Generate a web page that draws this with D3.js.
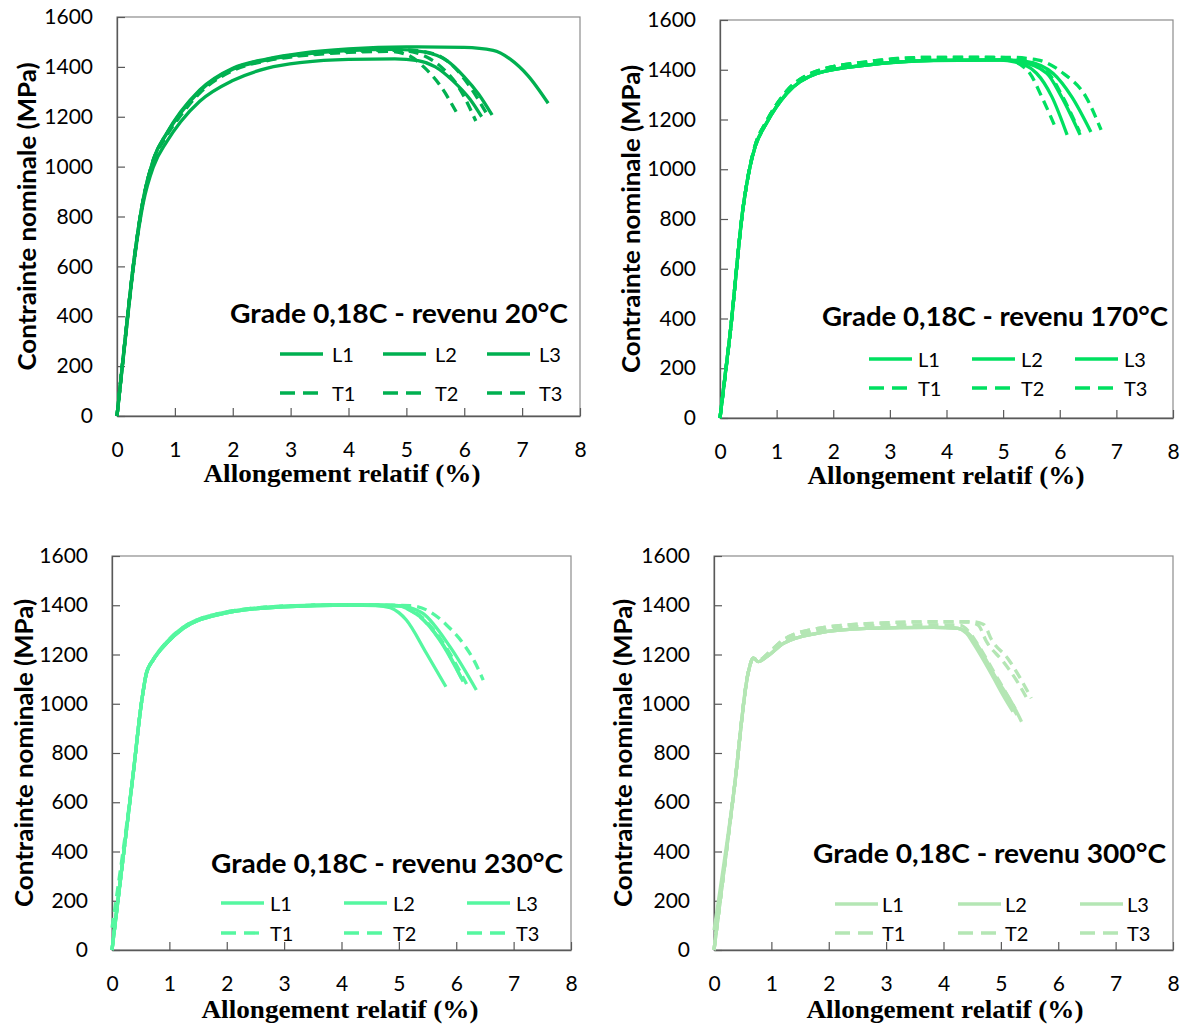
<!DOCTYPE html>
<html><head><meta charset="utf-8">
<script src="https://cdn.jsdelivr.net/npm/d3@7"></script>
<style>
html,body{margin:0;padding:0;background:#fff;}
svg{display:block;}
text{font-family:Lato,"Open Sans",sans-serif;fill:#000;}
</style></head>
<body>
<svg id="chart" width="1184" height="1027"></svg>
<script>
// ---------- data ----------
const seriesNames = ["L1","L2","L3","T1","T2","T3"];
const xTicks = [0,1,2,3,4,5,6,7,8];
const yTicks = [0,200,400,600,800,1000,1200,1400,1600];
const titles = ["Grade 0,18C - revenu 20°C","Grade 0,18C - revenu 170°C","Grade 0,18C - revenu 230°C","Grade 0,18C - revenu 300°C"];
const xTitle = "Allongement relatif (%)";
const yTitle = "Contrainte nominale (MPa)";

// revenu 20°C
const r20_L1 = [[0,0],[0.15,330],[0.28,600],[0.45,866],[0.63,1030],[0.86,1135],[1.1,1220],[1.43,1308],[2,1395],[2.6,1432],[3.2,1455],[4,1472],[5,1480],[6,1478],[6.5,1466],[6.8,1430],[7.1,1365],[7.45,1254]];
const r20_L2 = [[0,0],[0.15,320],[0.28,590],[0.45,850],[0.63,1000],[0.86,1100],[1.1,1180],[1.43,1262],[2,1345],[2.6,1395],[3.2,1418],[4,1430],[4.8,1432],[5.2,1425],[5.5,1400],[5.8,1345],[6.1,1270],[6.3,1200]];
const r20_L3 = [[0,0],[0.15,330],[0.28,600],[0.45,866],[0.63,1030],[0.86,1132],[1.1,1215],[1.43,1303],[2,1390],[2.6,1428],[3.2,1450],[4,1465],[4.8,1470],[5.3,1460],[5.7,1425],[6.0,1360],[6.25,1290],[6.48,1207]];
const r20_T1 = [[0,0],[0.15,325],[0.28,595],[0.45,860],[0.63,1020],[0.86,1125],[1.1,1205],[1.43,1295],[2,1385],[2.6,1425],[3.2,1445],[4,1458],[4.7,1462],[5.0,1450],[5.3,1400],[5.6,1320],[5.86,1220]];
const r20_T2 = [[0,0],[0.15,328],[0.28,598],[0.45,862],[0.63,1025],[0.86,1130],[1.1,1212],[1.43,1300],[2,1390],[2.6,1428],[3.2,1448],[4,1462],[4.9,1466],[5.3,1445],[5.6,1400],[5.9,1320],[6.2,1183]];
const r20_T3 = [[0,0],[0.15,330],[0.28,600],[0.45,865],[0.63,1028],[0.86,1132],[1.1,1216],[1.43,1304],[2,1392],[2.6,1430],[3.2,1452],[4,1465],[5.0,1468],[5.5,1450],[5.8,1405],[6.1,1320],[6.4,1207]];

// revenu 170°C
const r170_L1 = [[0,0],[0.18,342],[0.41,849],[0.53,1010],[0.62,1090],[0.82,1185],[1.18,1305],[1.71,1385],[2.59,1419],[3.77,1437],[4.95,1439],[5.2,1432],[5.59,1386],[5.86,1292],[6.13,1138]];
const r170_L2 = [[0,0],[0.18,342],[0.41,849],[0.53,1010],[0.62,1090],[0.82,1185],[1.18,1305],[1.71,1385],[2.59,1419],[3.77,1438],[5.0,1440],[5.3,1432],[5.77,1386],[6.03,1292],[6.36,1138]];
const r170_L3 = [[0,0],[0.18,342],[0.41,849],[0.53,1010],[0.62,1090],[0.82,1185],[1.18,1305],[1.71,1385],[2.59,1419],[3.77,1438],[5.0,1440],[5.4,1434],[5.88,1386],[6.21,1292],[6.55,1150]];
const r170_T1 = [[0,0],[0.18,342],[0.41,849],[0.53,1012],[0.62,1095],[0.82,1192],[1.18,1312],[1.71,1393],[2.59,1430],[3.77,1448],[4.7,1450],[5.1,1440],[5.47,1386],[5.68,1292],[5.93,1165]];
const r170_T2 = [[0,0],[0.18,342],[0.41,849],[0.53,1012],[0.62,1095],[0.82,1192],[1.18,1315],[1.71,1395],[2.59,1432],[3.77,1450],[4.9,1450],[5.35,1438],[5.8,1386],[6.05,1292],[6.35,1150]];
const r170_T3 = [[0,0],[0.18,342],[0.41,849],[0.53,1012],[0.62,1095],[0.82,1192],[1.18,1315],[1.71,1395],[2.59,1432],[3.77,1450],[5.1,1450],[5.6,1440],[6.06,1386],[6.46,1292],[6.73,1158]];

// revenu 230°C
const r230_L1 = [[0,0],[0.37,717],[0.52,1015],[0.6,1124],[0.72,1178],[0.95,1245],[1.24,1306],[1.82,1360],[2.98,1394],[4.15,1401],[4.6,1399],[4.85,1390],[5.0,1370],[5.13,1340],[5.48,1205],[5.82,1069]];
const r230_L2 = [[0,0],[0.37,717],[0.52,1015],[0.6,1124],[0.72,1178],[0.95,1245],[1.24,1306],[1.82,1360],[2.98,1394],[4.15,1401],[5.0,1398],[5.2,1390],[5.42,1367],[5.89,1232],[6.35,1056]];
const r230_L3 = [[0,0],[0.37,717],[0.52,1015],[0.6,1124],[0.72,1178],[0.95,1245],[1.24,1306],[1.82,1360],[2.98,1394],[4.15,1401],[5.0,1398],[5.15,1385],[5.37,1353],[5.71,1259],[6.12,1090]];
const r230_T1 = [[0,90],[0.37,717],[0.52,1015],[0.6,1124],[0.72,1180],[0.95,1250],[1.24,1310],[1.82,1364],[2.98,1396],[4.15,1402],[5.0,1398],[5.15,1386],[5.37,1352],[5.71,1262],[6.1,1100]];
const r230_T2 = [[0,0],[0.37,717],[0.52,1015],[0.6,1124],[0.72,1180],[0.95,1250],[1.24,1310],[1.82,1364],[2.98,1396],[4.15,1402],[5.05,1398],[5.2,1384],[5.42,1348],[5.75,1255],[6.18,1080]];
const r230_T3 = [[0,0],[0.37,717],[0.52,1015],[0.6,1124],[0.72,1180],[0.95,1250],[1.24,1310],[1.82,1364],[2.98,1396],[4.15,1402],[5.2,1398],[5.54,1374],[5.83,1320],[6.12,1245],[6.32,1171],[6.47,1096]];

// revenu 300°C
const r300_L1 = [[0,0],[0.35,650],[0.6,1130],[0.685,1185],[0.77,1171],[0.92,1191],[1.21,1245],[1.79,1286],[2.66,1306],[3.82,1310],[4.2,1308],[4.4,1286],[4.52,1245],[4.86,1110],[5.05,1030],[5.21,968]];
const r300_L2 = [[0,0],[0.35,650],[0.6,1130],[0.685,1185],[0.77,1171],[0.92,1191],[1.21,1245],[1.79,1286],[2.66,1306],[3.82,1310],[4.25,1306],[4.45,1280],[4.6,1235],[4.9,1110],[5.2,1000],[5.36,927]];
const r300_L3 = [[0,80],[0.35,650],[0.6,1130],[0.685,1185],[0.77,1171],[0.92,1191],[1.21,1245],[1.79,1286],[2.66,1306],[3.82,1310],[4.25,1306],[4.45,1282],[4.58,1240],[4.9,1108],[5.16,1002],[5.28,955]];
const r300_T1 = [[0,0],[0.35,650],[0.6,1130],[0.685,1185],[0.77,1175],[0.92,1200],[1.21,1260],[1.79,1305],[2.66,1325],[3.82,1333],[4.4,1332],[4.6,1320],[4.75,1252],[5.04,1171],[5.27,1096],[5.47,1015]];
const r300_T2 = [[0,0],[0.35,650],[0.6,1130],[0.685,1185],[0.77,1175],[0.92,1200],[1.21,1260],[1.79,1305],[2.66,1325],[3.82,1333],[4.5,1333],[4.7,1322],[4.84,1259],[5.13,1181],[5.33,1107],[5.53,1022]];
const r300_T3 = [[0,0],[0.35,650],[0.6,1130],[0.685,1185],[0.77,1173],[0.92,1195],[1.21,1252],[1.79,1295],[2.66,1315],[3.82,1320],[4.3,1318],[4.45,1290],[4.6,1240],[4.9,1120],[5.25,980]];

const panelSeries = [
  [r20_L1,r20_L2,r20_L3,r20_T1,r20_T2,r20_T3],
  [r170_L1,r170_L2,r170_L3,r170_T1,r170_T2,r170_T3],
  [r230_L1,r230_L2,r230_L3,r230_T1,r230_T2,r230_T3],
  [r300_L1,r300_L2,r300_L3,r300_T1,r300_T2,r300_T3]
];

// ---------- layout ----------
const panels = [
  {L:117,R:580,T:17,B:416,color:"#00B050",tR:568,tY:323,tW:338,lgX:[280,383,487],lgOff:52,lgY:[354,393],yTx:26,xTx:342,xTy:482},
  {L:720,R:1173,T:20,B:418,color:"#00E060",tR:1168,tY:326,tW:346,lgX:[869,972,1075],lgOff:49,lgY:[359,388],yTx:630,xTx:946,xTy:484},
  {L:112,R:571,T:556,B:950,color:"#55F7A0",tR:563,tY:873,tW:352,lgX:[221,344,467],lgOff:49,lgY:[903,933],yTx:23,xTx:340,xTy:1018},
  {L:714,R:1173,T:556,B:950,color:"#B4E6B4",tR:1166,tY:863,tW:353,lgX:[835,958,1080],lgOff:47,lgY:[904,933],yTx:622,xTx:945,xTy:1018}
];

const svg = d3.select("#chart");
const dash = "10,6";

panels.forEach((p,i)=>{
  const x = d3.scaleLinear().domain([0,8]).range([p.L,p.R]);
  const y = d3.scaleLinear().domain([0,1600]).range([p.B,p.T]);
  const g = svg.append("g");

  // frame
  g.append("rect").attr("x",p.L).attr("y",p.T).attr("width",p.R-p.L).attr("height",p.B-p.T)
    .attr("fill","none").attr("stroke","#8c8c8c").attr("stroke-width",1.2);

  // axes
  const ya = g.append("g").attr("transform",`translate(${p.L},0)`)
    .call(d3.axisLeft(y).tickValues(yTicks).tickSize(-8).tickSizeOuter(0).tickPadding(24).tickFormat(d3.format("d")));
  const xa = g.append("g").attr("transform",`translate(0,${p.B})`)
    .call(d3.axisBottom(x).tickValues(xTicks).tickSize(-8).tickSizeOuter(0).tickPadding(26).tickFormat(d3.format("d")));
  [ya,xa].forEach(a=>{
    a.select(".domain").attr("stroke","#595959").attr("stroke-width",1.3);
    a.selectAll(".tick line").attr("stroke","#595959").attr("stroke-width",1.2);
    a.selectAll(".tick text").style("font-family","Lato, 'Open Sans', sans-serif").style("font-size","21px").attr("fill","#000");
  });

  // curves
  const line = d3.line().x(d=>x(d[0])).y(d=>y(d[1])).curve(d3.curveMonotoneX);
  panelSeries[i].forEach((s,k)=>{
    g.append("path").datum(s).attr("d",line).attr("fill","none")
      .attr("stroke",p.color).attr("stroke-width",3.3)
      .attr("stroke-linejoin","round")
      .attr("stroke-dasharray",k>=3?dash:null);
  });

  // title
  g.append("text").attr("x",p.tR).attr("y",p.tY).attr("text-anchor","end")
    .attr("textLength",p.tW).attr("lengthAdjust","spacingAndGlyphs")
    .style("font-weight","bold").style("font-size","26px").text(titles[i]);

  // legend
  seriesNames.forEach((nm,k)=>{
    const col = k%3, row = Math.floor(k/3);
    const lx = p.lgX[col], ly = p.lgY[row];
    g.append("line").attr("x1",lx).attr("x2",lx+(row===1?38:43)).attr("y1",ly).attr("y2",ly)
      .attr("stroke",p.color).attr("stroke-width",3.3)
      .attr("stroke-dasharray",row===1?"15,8":null);
    g.append("text").attr("x",lx+p.lgOff).attr("y",ly).attr("dominant-baseline","central")
      .style("font-size","20px").text(nm);
  });

  // axis titles
  g.append("text").attr("transform",`translate(${p.yTx},${(p.T+p.B)/2}) rotate(-90)`)
    .attr("text-anchor","middle").attr("dominant-baseline","central")
    .attr("textLength",308).attr("lengthAdjust","spacingAndGlyphs")
    .style("font-weight","bold").style("font-size","24px").text(yTitle);
  g.append("text").attr("x",p.xTx).attr("y",p.xTy).attr("text-anchor","middle")
    .attr("textLength",277).attr("lengthAdjust","spacingAndGlyphs")
    .style("font-family","'Liberation Serif','Times New Roman',serif")
    .style("font-weight","bold").style("font-size","25px").text(xTitle);
});
</script>
</body></html>
